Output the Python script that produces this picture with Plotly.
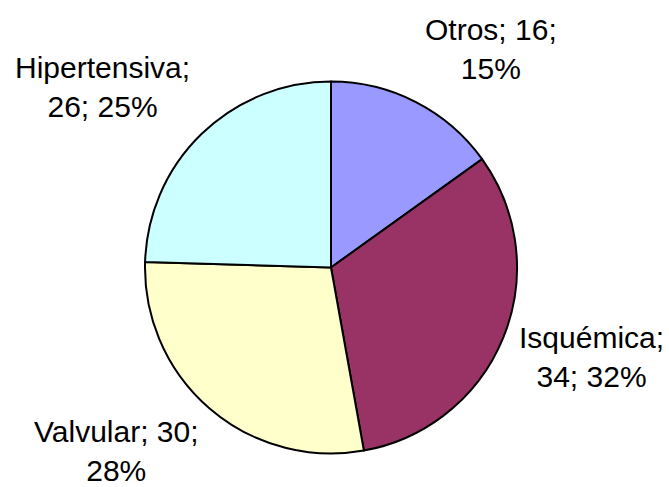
import plotly.graph_objects as go

W, H = 669, 487

categories = ["Otros", "Isquémica", "Valvular", "Hipertensiva"]
values = [16, 34, 30, 26]
colors = ["#9999FF", "#993366", "#FFFFCC", "#CCFFFF"]

# label layout (pixel centres of the outside labels, and where the line breaks)
label_px = [(491, 49), (591, 357), (116, 451), (102, 87)]
break_after_name = [False, True, False, True]

total = sum(values)
pcts = [round(v / total * 100) for v in values]

fig = go.Figure()
fig.add_trace(go.Pie(
    labels=categories,
    values=values,
    sort=False,
    direction="clockwise",
    rotation=0,
    marker=dict(colors=colors, line=dict(color="#000000", width=2)),
    textinfo="none",
    hoverinfo="skip",
    showlegend=False,
    domain=dict(x=[145 / W, 517 / W], y=[1 - 453.5 / H, 1 - 81.5 / H]),
))

for name, v, p, (px, py), brk in zip(categories, values, pcts, label_px, break_after_name):
    if brk:
        txt = f"{name};<br>{v}; {p}%"
    else:
        txt = f"{name}; {v};<br>{p}%"
    fig.add_annotation(
        x=px / W, y=1 - py / H, xref="paper", yref="paper",
        text=txt, showarrow=False, xanchor="center", yanchor="middle",
        align="center",
        font=dict(family="Liberation Sans, Arial, sans-serif", size=30, color="#000000"),
    )

fig.update_layout(
    width=W, height=H,
    margin=dict(l=0, r=0, t=0, b=0),
    paper_bgcolor="#FFFFFF",
    plot_bgcolor="#FFFFFF",
)

fig.write_html(
    "out.html",
    config={"displayModeBar": False},
    post_script="document.body.style.margin='0px';document.body.style.overflow='hidden';",
)
